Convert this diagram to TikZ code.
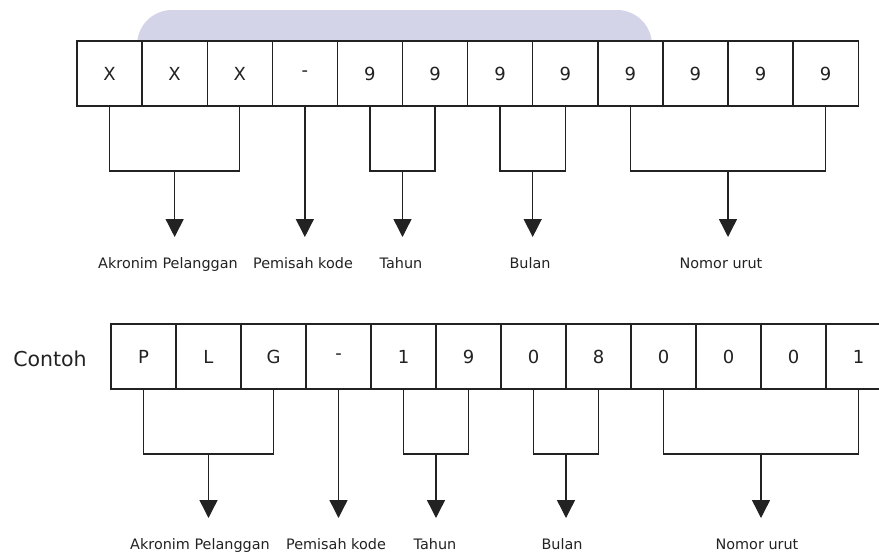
\documentclass[tikz,border=0pt]{standalone}
\usepackage{fontspec}
\setmainfont{DejaVu Sans}
\usetikzlibrary{arrows.meta,calc}
\definecolor{lav}{HTML}{D4D4E8}
\definecolor{ln}{HTML}{222222}
\tikzset{
  cell/.style={draw=ln, line width=1.4pt, fill=white, minimum width=65.1pt, minimum height=65pt,
    inner sep=0pt, outer sep=0pt, font=\fontsize{18}{21}\selectfont, text=ln},
  link/.style={draw=ln, line width=1.4pt},
  arr/.style={link, -{Triangle[width=18pt,length=18pt]}},
  lbl/.style={font=\fontsize{14.4}{17}\selectfont, text=ln, anchor=base, inner sep=0pt},
}
\begin{document}
\begin{tikzpicture}[x=1pt,y=-1pt]
\useasboundingbox (0,0) rectangle (879,555);
\clip (0,0) rectangle (879,555);
\fill[lav, rounded corners=35pt] (137,10) rectangle (652,90);
% top row
\foreach \t [count=\i] in {X,X,X,-,9,9,9,9,9,9,9,9}
  \node[cell] (a\i) at ({77+65.1*(\i-0.5)},73.5) {\t};
% bottom row
\node[font=\fontsize{20.5}{24}\selectfont, text=ln, anchor=base, inner sep=0pt] (contoh) at (50,366) {Contoh};
\foreach \t [count=\i] in {P,L,G,-,1,9,0,8,0,0,0,1}
  \node[cell] (b\i) at ({111+65*(\i-0.5)},356.5) {\t};

% top brackets
\draw[link] (a1.south) -- ++(0,65) -| (a3.south);
\coordinate (ta1) at ($(a1.south)!.5!(a3.south)+(0,65)$);
\coordinate (ta1e) at ($(ta1)+(0,66)$);
\draw[arr] (ta1) -- (ta1e);
\coordinate (ta2) at (a4.south);
\coordinate (ta2e) at ($(ta2)+(0,131)$);
\draw[arr] (ta2) -- (ta2e);
\draw[link] (a5.south) -- ++(0,65) -| (a6.south);
\coordinate (ta3) at ($(a5.south)!.5!(a6.south)+(0,65)$);
\coordinate (ta3e) at ($(ta3)+(0,66)$);
\draw[arr] (ta3) -- (ta3e);
\draw[link] (a7.south) -- ++(0,65) -| (a8.south);
\coordinate (ta4) at ($(a7.south)!.5!(a8.south)+(0,65)$);
\coordinate (ta4e) at ($(ta4)+(0,66)$);
\draw[arr] (ta4) -- (ta4e);
\draw[link] (a9.south) -- ++(0,65) -| (a12.south);
\coordinate (ta5) at ($(a9.south)!.5!(a12.south)+(0,65)$);
\coordinate (ta5e) at ($(ta5)+(0,66)$);
\draw[arr] (ta5) -- (ta5e);

\node[lbl] (la1) at (168,268) {Akronim Pelanggan};
\node[lbl] (la2) at (303,268) {Pemisah kode};
\node[lbl] (la3) at (401,268) {Tahun};
\node[lbl] (la4) at (530,268) {Bulan};
\node[lbl] (la5) at (721,268) {Nomor urut};

% bottom brackets
\draw[link] (b1.south) -- ++(0,65) -| (b3.south);
\coordinate (tb1) at ($(b1.south)!.5!(b3.south)+(0,65)$);
\coordinate (tb1e) at ($(tb1)+(0,64)$);
\draw[arr] (tb1) -- (tb1e);
\coordinate (tb2) at (b4.south);
\coordinate (tb2e) at ($(tb2)+(0,129)$);
\draw[arr] (tb2) -- (tb2e);
\draw[link] (b5.south) -- ++(0,65) -| (b6.south);
\coordinate (tb3) at ($(b5.south)!.5!(b6.south)+(0,65)$);
\coordinate (tb3e) at ($(tb3)+(0,64)$);
\draw[arr] (tb3) -- (tb3e);
\draw[link] (b7.south) -- ++(0,65) -| (b8.south);
\coordinate (tb4) at ($(b7.south)!.5!(b8.south)+(0,65)$);
\coordinate (tb4e) at ($(tb4)+(0,64)$);
\draw[arr] (tb4) -- (tb4e);
\draw[link] (b9.south) -- ++(0,65) -| (b12.south);
\coordinate (tb5) at ($(b9.south)!.5!(b12.south)+(0,65)$);
\coordinate (tb5e) at ($(tb5)+(0,64)$);
\draw[arr] (tb5) -- (tb5e);

\node[lbl] (lb1) at (200,549) {Akronim Pelanggan};
\node[lbl] (lb2) at (336,549) {Pemisah kode};
\node[lbl] (lb3) at (435,549) {Tahun};
\node[lbl] (lb4) at (562,549) {Bulan};
\node[lbl] (lb5) at (757,549) {Nomor urut};
\end{tikzpicture}
\end{document}
